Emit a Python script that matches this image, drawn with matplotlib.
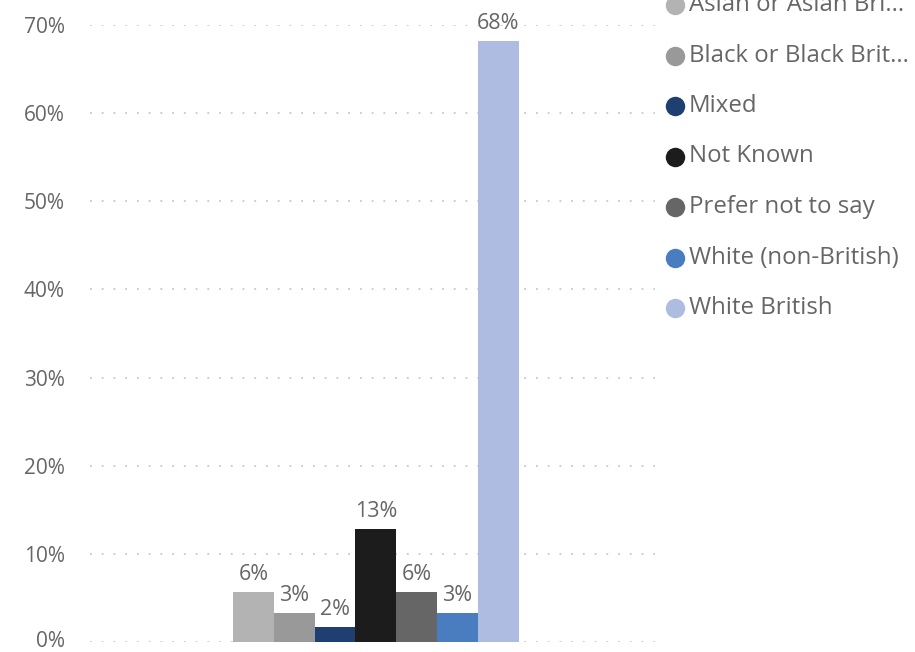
import matplotlib.pyplot as plt
import matplotlib.transforms as mtransforms
import numpy as np
from matplotlib.lines import Line2D

plt.rcParams["font.family"] = ["Open Sans", "DejaVu Sans"]

# series values (share of total, %)
groups = ["Asian or Asian Bri...", "Black or Black Brit...", "Mixed", "Not Known",
          "Prefer not to say", "White (non-British)", "White British"]
values = [5.7, 3.3, 1.7, 12.8, 5.7, 3.3, 68.2]
labels = ["6%", "3%", "2%", "13%", "6%", "3%", "68%"]
colors = ["#B3B3B3", "#999999", "#203F71", "#1C1C1C", "#666666", "#4A7CC0", "#ADBCE0"]
yticks = [0, 10, 20, 30, 40, 50, 60, 70]

TEXT = "#666666"

fig = plt.figure(figsize=(9.15, 6.52), dpi=100)
ax = fig.add_axes([90 / 915, 1 - 642 / 652, 565 / 915, 617 / 652])

n = len(values)
width = 0.0723
offsets = (np.arange(n) - (n - 1) / 2) * width + 0.006
ax.bar(offsets, values, width=width, color=colors, zorder=2)
for x, v, lab in zip(offsets, values, labels):
    ax.annotate(lab, (x, v), xytext=(0, 5), textcoords="offset points",
                ha="center", va="bottom", fontsize=15.5, color=TEXT, zorder=3)

ax.set_xlim(-0.5, 0.5)
ax.set_ylim(0, 70)
ax.set_yticks(yticks)
ax.set_yticklabels([f"{t}%" for t in yticks], fontsize=15, color=TEXT)
ax.set_xticks([])
ax.tick_params(axis="y", length=0, pad=18)
ax.grid(axis="y", color="#C8C8C8", linestyle=(0, (1, 5.5)), linewidth=1.3, zorder=0)
for s in ax.spines.values():
    s.set_visible(False)
ax.set_axisbelow(True)

# nudge the 0% label up a little so it stays inside the canvas
zero_lab = ax.get_yticklabels()[0]
zero_lab.set_transform(zero_lab.get_transform() + mtransforms.ScaledTranslation(0, 2 / 72, fig.dpi_scale_trans))

# legend drawn by hand, top entry partly cut off like the original
leg_y0 = 5
step = 50.5
for i, (g, c) in enumerate(zip(groups, colors)):
    y = 1 - (leg_y0 + i * step) / 652
    fig.add_artist(Line2D([675 / 915], [y], marker="o", markersize=14, color=c,
                          markeredgewidth=0, transform=fig.transFigure))
    fig.text(689 / 915, y, g, fontsize=17.3, color=TEXT, va="center", ha="left")

fig.savefig("out.png", dpi=100)
